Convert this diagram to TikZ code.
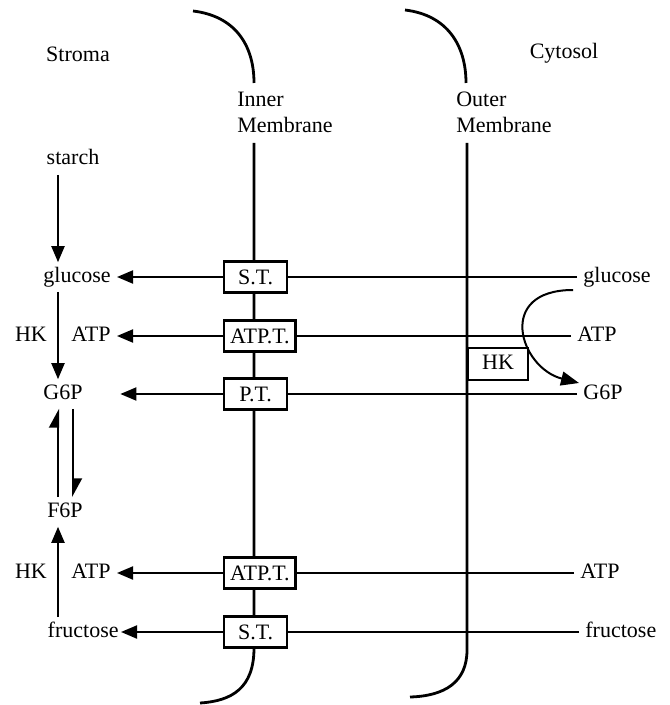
\documentclass[tikz,border=0pt]{standalone}
\usepackage{fontspec}
\setmainfont{Liberation Serif}
\usetikzlibrary{arrows.meta}

\begin{document}
\begin{tikzpicture}[
    x=0.5pt, y=-0.5pt,
    lbl/.style={font=\fontsize{11}{13}\selectfont, inner xsep=3pt, inner ysep=2pt, text height=7.7pt, text depth=2.7pt},
    tbox/.style={rectangle, draw, line width=1.1pt, fill=white, font=\fontsize{11}{13}\selectfont, inner xsep=3pt, minimum width=31.5pt, minimum height=15.5pt, anchor=west},
    mlabel/.style={font=\fontsize{11}{13}\selectfont, align=left},
    membrane/.style={draw, line width=1.4pt},
    line/.style={draw, line width=1pt},
    arrow/.style={line, -{Triangle[length=8pt,width=6.5pt]}},
    harpoon/.style={line, -{Triangle[left,length=8.5pt,width=9pt]}}
]
    \useasboundingbox (0,0) rectangle (669,705);

    \draw [membrane] (193,11) .. controls (235,16) and (254,45) .. (254,83);
    \draw [membrane] (254,143) -- (254,648) .. controls (254,688) and (232,701) .. (200,703);
    \draw [membrane] (405,10) .. controls (447,15) and (466,45) .. (466,83);
    \draw [membrane] (467,143) -- (467,650) .. controls (467,682) and (445,696) .. (410,697);

    \node [lbl] (stroma) at (78,57) {Stroma};
    \node [lbl] (cytosol) at (564,54) {Cytosol};
    \node [mlabel] (innerlbl) at (285,112) {Inner\\Membrane};
    \node [mlabel] (outerlbl) at (504,112) {Outer\\Membrane};

    \node [tbox] (st1) at (223,277) {S.T.};
    \node [tbox] (atpt1) at (223,336) {ATP.T.};
    \node [tbox] (pt) at (223,394) {P.T.};
    \node [tbox] (atpt2) at (223,573) {ATP.T.};
    \node [tbox] (st2) at (223,632) {S.T.};
    \node [lbl, draw, line width=0.8pt, minimum width=30pt, minimum height=16pt] (hk) at (498,364) {HK};

    \node [lbl] (starch) at (73,160) {starch};
    \node [lbl, anchor=east] (glucL) at (117,277) {glucose};
    \node [lbl] (hkL1) at (31,336) {HK};
    \node [lbl, anchor=east] (atpL1) at (117,336) {ATP};
    \node [lbl] (g6pL) at (63,394) {G6P};
    \node [lbl] (f6p) at (65,512) {F6P};
    \node [lbl] (hkL2) at (31,573) {HK};
    \node [lbl, anchor=east] (atpL2) at (117,573) {ATP};
    \node [lbl, anchor=east, inner xsep=1pt] (fructL) at (121,632) {fructose};

    \node [lbl, anchor=west] (glucR) at (577,277) {glucose};
    \node [lbl, anchor=west] (atpR1) at (571,336) {ATP};
    \node [lbl, anchor=west] (g6pR) at (577,394) {G6P};
    \node [lbl, anchor=west] (atpR2) at (574,573) {ATP};
    \node [lbl, anchor=west] (fructR) at (579,632) {fructose};

    \coordinate (colA) at (58,0);
    \coordinate (colB) at (73,0);
    \coordinate (hkin) at (573,290);
    \coordinate (hkout) at (579,383);

    \draw [arrow] (starch.south -| colA) -- (glucL.north -| colA);
    \draw [arrow] (glucL.south -| colA) -- (g6pL.north -| colA);
    \draw [harpoon] (f6p.north -| colA) -- (g6pL.south -| colA);
    \draw [harpoon] (g6pL.south -| colB) -- (f6p.north -| colB);
    \draw [arrow] (fructL.north -| colA) -- (f6p.south -| colA);

    \draw [line] (glucR.west) -- (st1.east);
    \draw [arrow] (st1.west) -- (glucL.east);
    \draw [line] (atpR1.west) -- (atpt1.east);
    \draw [arrow] (atpt1.west) -- (atpL1.east);
    \draw [line] (g6pR.west) -- (pt.east);
    \draw [arrow, shorten >=15.7pt] (pt.west) -- (g6pL.east);
    \draw [line] (atpR2.west) -- (atpt2.east);
    \draw [arrow] (atpt2.west) -- (atpL2.east);
    \draw [line] (fructR.west) -- (st2.east);
    \draw [arrow] (st2.west) -- (fructL.east);

    \draw [line, -{Triangle[length=9pt,width=7pt]}] (hkin) .. controls (495,290) and (520,368) .. (hkout);
\end{tikzpicture}
\end{document}
